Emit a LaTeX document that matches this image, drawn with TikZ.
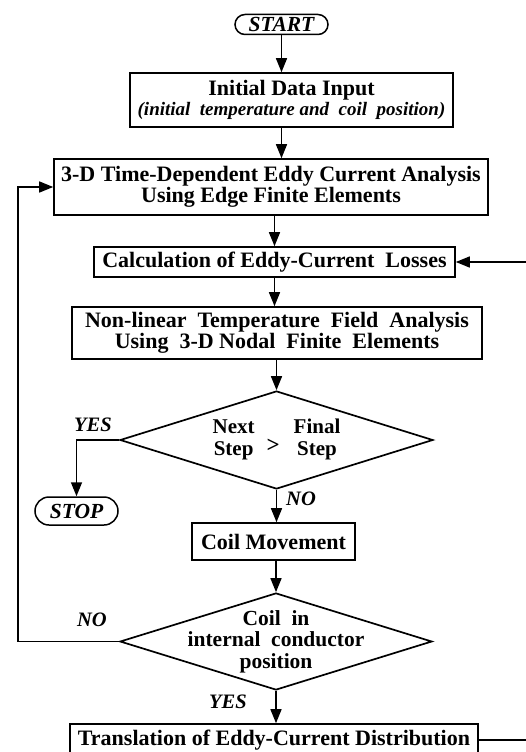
\documentclass[tikz,border=0pt]{standalone}
\usepackage{fontspec}
\setmainfont{Liberation Serif}
\usetikzlibrary{shapes.geometric,arrows.meta}
\begin{document}
\begin{tikzpicture}[x=1pt,y=-1pt,
  box/.style={draw,line width=1.6pt,rectangle,inner sep=0pt,align=center,
    font=\bfseries\fontsize{22}{21}\selectfont},
  term/.style={draw,line width=1.5pt,rectangle,inner sep=0pt,
    font=\bfseries\itshape\fontsize{21.5}{21}\selectfont},
  dia/.style={draw,line width=1.7pt,diamond,aspect=3,inner sep=0pt},
  dtext/.style={inner sep=0pt,align=center,font=\bfseries\fontsize{21.5}{21.5}\selectfont},
  lbl/.style={inner sep=0pt,font=\bfseries\itshape\fontsize{20.5}{20}\selectfont},
  arr/.style={line width=1.5pt,-{Triangle[length=14pt,width=11pt]}},
  link/.style={line width=1.5pt}]
\useasboundingbox (0,0) rectangle (526,752);
\clip (0,0) rectangle (526,752);

\node[term,minimum width=93pt,minimum height=20pt,rounded corners=10pt] (start) at (281.5,24.5) {START};
\node[box,minimum width=323pt,minimum height=54pt] (init) at (291.5,100)
  {Initial Data Input\\[-1pt]{\itshape\fontsize{19}{20}\selectfont (initial \ temperature and \ coil \ position)}};
\node[box,minimum width=434pt,minimum height=56pt] (fem) at (271,187)
  {3-D Time-Dependent Eddy Current Analysis\\Using Edge Finite Elements};
\node[box,minimum width=361pt,minimum height=30pt] (calc) at (274.5,262)
  {Calculation of Eddy-Current \ Losses};
\node[box,minimum width=410pt,minimum height=52pt] (nl) at (277,333)
  {Non-linear \ Temperature \ Field \ Analysis\\Using \ 3-D Nodal \ Finite \ Elements};
\node[dia,minimum width=313pt,minimum height=98pt,
  label={[dtext,font=\bfseries\fontsize{21}{22}\selectfont]center:{\begin{tabular}{@{}c@{\hspace{12pt}}c@{\hspace{14pt}}c@{}}Next&&Final\\[-1pt]Step&\raisebox{3pt}{\fontsize{23}{22}\selectfont >}&Step\end{tabular}}}] (d1) at (276.5,440) {};
\node[term,minimum width=83pt,minimum height=28pt,rounded corners=14pt] (stop) at (76.5,511) {STOP};
\node[box,minimum width=163pt,minimum height=37pt] (cm) at (273.5,541.5) {Coil Movement};
\node[dia,minimum width=312pt,minimum height=97pt,
  label={[dtext]center:{Coil \ in\\internal \ conductor\\position}}] (d2) at (276,641.5) {};
\node[box,minimum width=408pt,minimum height=32pt] (trans) at (274,740)
  {Translation of Eddy-Current Distribution};

\node[lbl] (yes1) at (93,425) {YES};
\node[lbl] (no1) at (301,499) {NO};
\node[lbl] (no2) at (92,620) {NO};
\node[lbl] (yes2) at (228,702) {YES};

\coordinate (lft) at (18,0);
\coordinate (rgt) at (527.5,0);

\draw[arr] (start.south) -- (start.south |- init.north);
\draw[arr] (start.south |- init.south) -- (start.south |- fem.north);
\draw[arr] (calc.north |- fem.south) -- (calc.north);
\draw[arr] (calc.south) -- (calc.south |- nl.north);
\draw[arr] (d1.north |- nl.south) -- (d1.north);
\draw[arr] (d1.south) -- (d1.south |- cm.north);
\draw[arr] (d2.north |- cm.south) -- (d2.north);
\draw[arr] (d2.south) -- (d2.south |- trans.north);
\draw[arr] (d1.west) -| (stop.north);
\draw[arr] (d2.west) -- (d2.west -| lft) |- (fem.west);
\draw[arr] (trans.east) -- (trans.east -| rgt) |- (calc.east);
\end{tikzpicture}
\end{document}
